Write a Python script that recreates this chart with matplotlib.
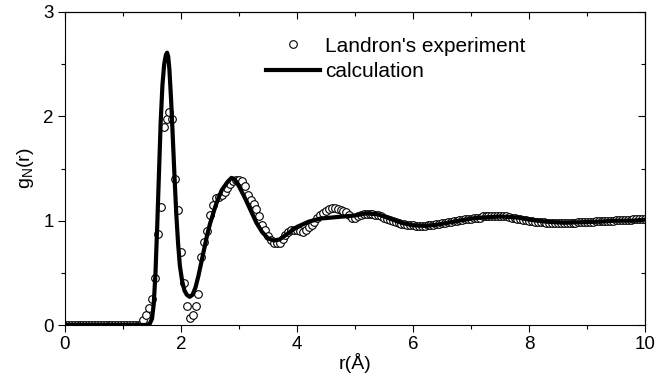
import numpy as np
import matplotlib
matplotlib.use("Agg")
import matplotlib.pyplot as plt
from matplotlib.ticker import MultipleLocator

plt.rcParams['font.family'] = ['Liberation Sans', 'DejaVu Sans']

# Landron's experiment (r in Angstrom, g_N(r))
r_exp = [0.00, 0.05, 0.10, 0.15, 0.20, 0.25, 0.30, 0.35, 0.40, 0.45,
         0.50, 0.55, 0.60, 0.65, 0.70, 0.75, 0.80, 0.85, 0.90, 0.95,
         1.00, 1.05, 1.10, 1.15, 1.20, 1.25, 1.30, 1.35, 1.40, 1.45,
         1.50, 1.55, 1.60, 1.65, 1.70, 1.75, 1.80, 1.85, 1.90, 1.95,
         2.00, 2.05, 2.10, 2.15, 2.20, 2.25, 2.30, 2.35, 2.40, 2.45,
         2.50, 2.55, 2.60, 2.65, 2.70, 2.75, 2.80, 2.85, 2.90, 2.95,
         3.00, 3.05, 3.10, 3.15, 3.20, 3.25, 3.30, 3.35, 3.40, 3.45,
         3.50, 3.55, 3.60, 3.65, 3.70, 3.75, 3.80, 3.85, 3.90, 3.95,
         4.00, 4.05, 4.10, 4.15, 4.20, 4.25, 4.30, 4.35, 4.40, 4.45,
         4.50, 4.55, 4.60, 4.65, 4.70, 4.75, 4.80, 4.85, 4.90, 4.95,
         5.00, 5.05, 5.10, 5.15, 5.20, 5.25, 5.30, 5.35, 5.40, 5.45,
         5.50, 5.55, 5.60, 5.65, 5.70, 5.75, 5.80, 5.85, 5.90, 5.95,
         6.00, 6.05, 6.10, 6.15, 6.20, 6.25, 6.30, 6.35, 6.40, 6.45,
         6.50, 6.55, 6.60, 6.65, 6.70, 6.75, 6.80, 6.85, 6.90, 6.95,
         7.00, 7.05, 7.10, 7.15, 7.20, 7.25, 7.30, 7.35, 7.40, 7.45,
         7.50, 7.55, 7.60, 7.65, 7.70, 7.75, 7.80, 7.85, 7.90, 7.95,
         8.00, 8.05, 8.10, 8.15, 8.20, 8.25, 8.30, 8.35, 8.40, 8.45,
         8.50, 8.55, 8.60, 8.65, 8.70, 8.75, 8.80, 8.85, 8.90, 8.95,
         9.00, 9.05, 9.10, 9.15, 9.20, 9.25, 9.30, 9.35, 9.40, 9.45,
         9.50, 9.55, 9.60, 9.65, 9.70, 9.75, 9.80, 9.85, 9.90, 9.95,
         10.00]
g_exp = [0, 0, 0, 0, 0, 0, 0, 0, 0, 0,
         0, 0, 0, 0, 0, 0, 0, 0, 0, 0,
         0, 0, 0, 0, 0, 0, 0, 0.05, 0.10, 0.16,
         0.25, 0.45, 0.87, 1.13, 1.90, 1.97, 2.04, 1.97, 1.40, 1.10,
         0.70, 0.40, 0.18, 0.07, 0.10, 0.18, 0.30, 0.65, 0.80, 0.90,
         1.05, 1.15, 1.22, 1.23, 1.25, 1.27, 1.31, 1.35, 1.38, 1.39,
         1.39, 1.38, 1.33, 1.25, 1.20, 1.16, 1.11, 1.04, 0.96, 0.91,
         0.85, 0.81, 0.79, 0.79, 0.79, 0.82, 0.86, 0.89, 0.91, 0.91,
         0.91, 0.90, 0.89, 0.91, 0.94, 0.96, 0.99, 1.03, 1.05, 1.07,
         1.09, 1.11, 1.12, 1.12, 1.11, 1.10, 1.09, 1.08, 1.05, 1.03,
         1.03, 1.04, 1.05, 1.06, 1.06, 1.06, 1.06, 1.05, 1.05, 1.04,
         1.03, 1.02, 1.01, 1.00, 0.99, 0.98, 0.97, 0.97, 0.96, 0.96,
         0.955, 0.95, 0.95, 0.95, 0.95, 0.955, 0.96, 0.96, 0.965, 0.97,
         0.975, 0.98, 0.99, 0.99, 1.00, 1.00, 1.01, 1.01, 1.02, 1.02,
         1.02, 1.03, 1.03, 1.03, 1.04, 1.04, 1.04, 1.04, 1.04, 1.04,
         1.045, 1.04, 1.04, 1.035, 1.03, 1.03, 1.02, 1.02, 1.01, 1.01,
         1.00, 1.00, 0.99, 0.99, 0.985, 0.985, 0.98, 0.98, 0.98, 0.98,
         0.98, 0.975, 0.975, 0.975, 0.98, 0.98, 0.98, 0.985, 0.985, 0.99,
         0.99, 0.99, 0.99, 0.995, 0.995, 0.995, 1.00, 1.00, 1.00, 1.00,
         1.005, 1.005, 1.01, 1.01, 1.01, 1.01, 1.015, 1.015, 1.02, 1.02,
         1.02]

# calculation
r_calc = [0.0, 1.40, 1.46, 1.50, 1.53, 1.56, 1.59, 1.62, 1.65, 1.68,
          1.71, 1.74, 1.76, 1.78, 1.80, 1.83, 1.86, 1.89, 1.92, 1.95,
          1.98, 2.02, 2.06, 2.10, 2.15, 2.20, 2.25, 2.30, 2.35, 2.40,
          2.45, 2.50, 2.60, 2.70, 2.80, 2.87, 2.92, 3.00, 3.10, 3.20,
          3.30, 3.40, 3.50, 3.60, 3.70, 3.80, 3.90, 4.00, 4.20, 4.40,
          4.60, 4.80, 5.00, 5.20, 5.40, 5.60, 5.80, 6.00, 6.20, 6.40,
          6.60, 6.80, 7.00, 7.20, 7.50, 7.80, 8.00, 8.30, 8.60, 8.90,
          9.20, 9.50, 9.80, 10.0]
g_calc = [0, 0, 0.01, 0.06, 0.20, 0.50, 0.95, 1.45, 1.95, 2.30,
          2.50, 2.59, 2.61, 2.57, 2.45, 2.15, 1.78, 1.40, 1.05, 0.78,
          0.57, 0.42, 0.33, 0.29, 0.27, 0.29, 0.36, 0.47, 0.60, 0.73,
          0.86, 0.97, 1.15, 1.29, 1.37, 1.41, 1.40, 1.33, 1.22, 1.10,
          0.98, 0.89, 0.83, 0.81, 0.82, 0.86, 0.90, 0.94, 0.99, 1.02,
          1.03, 1.04, 1.05, 1.07, 1.06, 1.02, 0.98, 0.955, 0.95, 0.96,
          0.98, 1.00, 1.02, 1.03, 1.04, 1.03, 1.01, 0.99, 0.98, 0.985,
          0.99, 1.00, 1.00, 1.01]

fig = plt.figure(figsize=(6.55, 3.79), dpi=100)
ax = fig.add_axes([65 / 655, 54 / 379, 580 / 655, 313 / 379])

ax.plot(r_exp, g_exp, 'o', ms=5.5, mfc='white', mec='black', mew=0.8,
        label="Landron's experiment")
ax.plot(r_calc, g_calc, '-', color='black', lw=3, label='calculation')

ax.set_xlim(0, 10)
ax.set_ylim(0, 3)
ax.xaxis.set_major_locator(MultipleLocator(2))
ax.xaxis.set_minor_locator(MultipleLocator(1))
ax.yaxis.set_major_locator(MultipleLocator(1))
ax.yaxis.set_minor_locator(MultipleLocator(0.5))

ax.tick_params(which='both', direction='out', top=False, right=False,
               labelsize=13.5, width=0.8)
ax.tick_params(which='major', length=5, pad=3)
ax.tick_params(which='minor', length=3)

# inward ticks on top and right, like Origin
ax_top = ax.secondary_xaxis('top')
ax_top.xaxis.set_major_locator(MultipleLocator(2))
ax_top.xaxis.set_minor_locator(MultipleLocator(1))
ax_top.tick_params(which='both', direction='in', labeltop=False, width=0.8)
ax_top.tick_params(which='major', length=5)
ax_top.tick_params(which='minor', length=3)
ax_right = ax.secondary_yaxis('right')
ax_right.yaxis.set_major_locator(MultipleLocator(1))
ax_right.yaxis.set_minor_locator(MultipleLocator(0.5))
ax_right.tick_params(which='both', direction='in', labelright=False, width=0.8)
ax_right.tick_params(which='major', length=5)
ax_right.tick_params(which='minor', length=3)

for s in ax.spines.values():
    s.set_linewidth(0.8)

ax.set_xlabel('r(Å)', fontsize=14, labelpad=0)
ax.set_ylabel('g$_\\mathregular{N}$(r)', fontsize=14, labelpad=5)

ax.legend(loc='upper left', bbox_to_anchor=(0.332, 0.948), frameon=False,
          fontsize=15, handlelength=2.6, handletextpad=0.24,
          labelspacing=0.3, borderaxespad=0)

fig.savefig('out.png', dpi=100)
